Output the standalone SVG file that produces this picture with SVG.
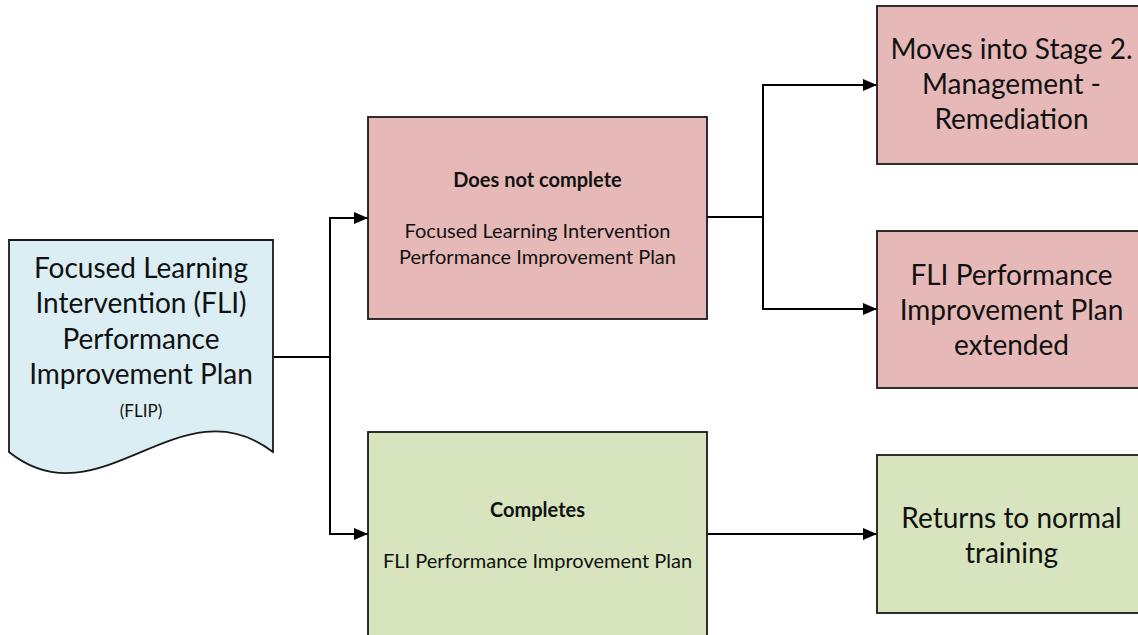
<svg xmlns="http://www.w3.org/2000/svg" width="1138" height="635" viewBox="0 0 1138 635">
  <style>
    .shape { stroke: #1a1a1a; stroke-width: 1.8; }
    .doc { fill: #dbeef4; }
    .red { fill: #e6b9b8; }
    .green { fill: #d7e4bd; }
    text { font-family: Lato, "Open Sans", "Liberation Sans", sans-serif; fill: #111; text-anchor: middle; }
    .big { font-size: 28px; }
    .mid { font-size: 20px; }
    .small { font-size: 17px; }
    .bold { font-weight: bold; }
    .conn { fill: none; stroke: #000; stroke-width: 2; marker-end: url(#arrow); }
    .plain { fill: none; stroke: #000; stroke-width: 2; }
  </style>
  <defs>
    <marker id="arrow" markerUnits="userSpaceOnUse" markerWidth="14" markerHeight="12" refX="14" refY="6" orient="auto">
      <path d="M0,0 L14,6 L0,12 z" fill="#000"/>
    </marker>
  </defs>
  <rect width="1138" height="635" fill="#fff"/>

  <!-- connectors -->
  <g id="connectors">
    <path class="plain" d="M273,357 H330"/>
    <path class="conn" d="M330,357 V218 H368"/>
    <path class="conn" d="M330,357 V534 H368"/>
    <path class="plain" d="M707,217 H763"/>
    <path class="conn" d="M763,217 V85 H877"/>
    <path class="conn" d="M763,217 V309 H877"/>
    <path class="conn" d="M707,534 H877"/>
  </g>

  <!-- starting document -->
  <g id="flip">
    <path class="shape doc" d="M9,240 H273 V452 C180,380 100,525 9,452 Z"/>
    <text class="big" x="141" y="278">Focused Learning</text>
    <text class="big" x="141" y="313">Intervention (FLI)</text>
    <text class="big" x="141" y="349">Performance</text>
    <text class="big" x="141" y="384">Improvement Plan</text>
    <text class="small" x="141" y="417">(FLIP)</text>
  </g>

  <g id="not-complete">
    <rect class="shape red" x="368" y="117" width="339" height="202"/>
    <text class="mid bold" x="537.5" y="187">Does not complete</text>
    <text class="mid" x="537.5" y="238">Focused Learning Intervention</text>
    <text class="mid" x="537.5" y="264">Performance Improvement Plan</text>
  </g>

  <g id="completes">
    <rect class="shape green" x="368" y="432" width="339" height="210"/>
    <text class="mid bold" x="537.5" y="517">Completes</text>
    <text class="mid" x="537.5" y="568">FLI Performance Improvement Plan</text>
  </g>

  <g id="stage-2">
    <rect class="shape red" x="877" y="6" width="270" height="158"/>
    <text class="big" x="1011.5" y="59">Moves into Stage 2.</text>
    <text class="big" x="1011.5" y="94">Management -</text>
    <text class="big" x="1011.5" y="129">Remediation</text>
  </g>

  <g id="extended">
    <rect class="shape red" x="877" y="231" width="270" height="157"/>
    <text class="big" x="1011.5" y="285">FLI Performance</text>
    <text class="big" x="1011.5" y="320">Improvement Plan</text>
    <text class="big" x="1011.5" y="355">extended</text>
  </g>

  <g id="normal-training">
    <rect class="shape green" x="877" y="455" width="270" height="158"/>
    <text class="big" x="1011.5" y="528">Returns to normal</text>
    <text class="big" x="1011.5" y="563">training</text>
  </g>
</svg>
